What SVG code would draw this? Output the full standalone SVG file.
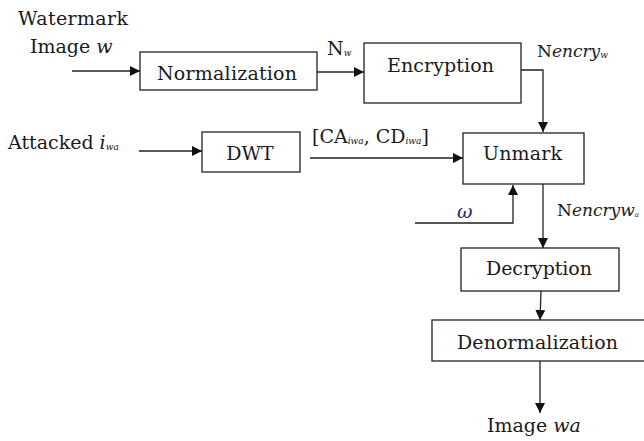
<svg xmlns="http://www.w3.org/2000/svg" width="644" height="441" viewBox="0 0 644 441">
<style>
text{font-family:"DejaVu Serif","Liberation Serif",serif;font-size:19px;fill:#1a1a1a}
.box{fill:#fff;stroke:#222;stroke-width:1.3}
.ln{fill:none;stroke:#222;stroke-width:1.3}
.it{font-style:italic}
.sub{font-size:9px;font-style:italic}
.lbl{font-size:17px}
</style>
<defs>
<marker id="ah" viewBox="0 0 10 10" refX="10" refY="5" markerWidth="10" markerHeight="10" markerUnits="userSpaceOnUse" orient="auto">
<path d="M0,0 L10,5 L0,10 Z" fill="#111"/>
</marker>
</defs>
<g id="connectors">
<line class="ln" x1="72" y1="71" x2="140" y2="71" marker-end="url(#ah)"/>
<line class="ln" x1="317" y1="72" x2="364" y2="72" marker-end="url(#ah)"/>
<polyline class="ln" points="521,70 543,70 543,132" marker-end="url(#ah)"/>
<line class="ln" x1="139" y1="151" x2="202" y2="151" marker-end="url(#ah)"/>
<line class="ln" x1="310" y1="158" x2="463" y2="158" marker-end="url(#ah)"/>
<polyline class="ln" points="415,223 513,223 513,185" marker-end="url(#ah)"/>
<line class="ln" x1="543" y1="184" x2="543" y2="248" marker-end="url(#ah)"/>
<line class="ln" x1="541" y1="291" x2="540" y2="320" marker-end="url(#ah)"/>
<line class="ln" x1="540" y1="361" x2="540" y2="413" marker-end="url(#ah)"/>
<text x="327" y="55">N<tspan class="sub" dy="1">w</tspan></text>
<text x="537" y="57" class="lbl">N<tspan class="it">encry</tspan><tspan class="sub" dy="1">w</tspan></text>
<text x="312" y="143">[CA<tspan class="sub" dy="1">iwa</tspan><tspan dy="-1">, CD</tspan><tspan class="sub" dy="1">iwa</tspan><tspan dy="-1">]</tspan></text>
<text x="457" y="218" class="it" style="fill:#1c2a6b">ω</text>
<text x="557" y="216" class="lbl">N<tspan class="it">encryw</tspan><tspan class="sub" dy="1" style="font-size:7px">a</tspan></text>
</g>
<g id="input-watermark">
<text x="18" y="25" textLength="110">Watermark</text>
<text x="30" y="53">Image <tspan class="it">w</tspan></text>
</g>
<g id="input-attacked">
<text x="8" y="149">Attacked <tspan class="it">i</tspan><tspan class="sub" dy="1">wa</tspan></text>
</g>
<g id="normalization">
<rect class="box" x="140" y="52" width="177" height="38"/>
<text x="157" y="80" textLength="140">Normalization</text>
</g>
<g id="encryption">
<rect class="box" x="364" y="43" width="157" height="60"/>
<text x="387" y="72" textLength="107">Encryption</text>
</g>
<g id="dwt">
<rect class="box" x="202" y="132" width="98" height="40"/>
<text x="250" y="160" text-anchor="middle">DWT</text>
</g>
<g id="unmark">
<rect class="box" x="463" y="133" width="121" height="51"/>
<text x="483" y="160" textLength="79">Unmark</text>
</g>
<g id="decryption">
<rect class="box" x="461" y="248" width="158" height="43"/>
<text x="486" y="275" textLength="106">Decryption</text>
</g>
<g id="denormalization">
<rect class="box" x="432" y="320" width="220" height="41"/>
<text x="457" y="349" textLength="161">Denormalization</text>
</g>
<g id="output-image">
<text x="487" y="432">Image <tspan class="it">wa</tspan></text>
</g>
</svg>
